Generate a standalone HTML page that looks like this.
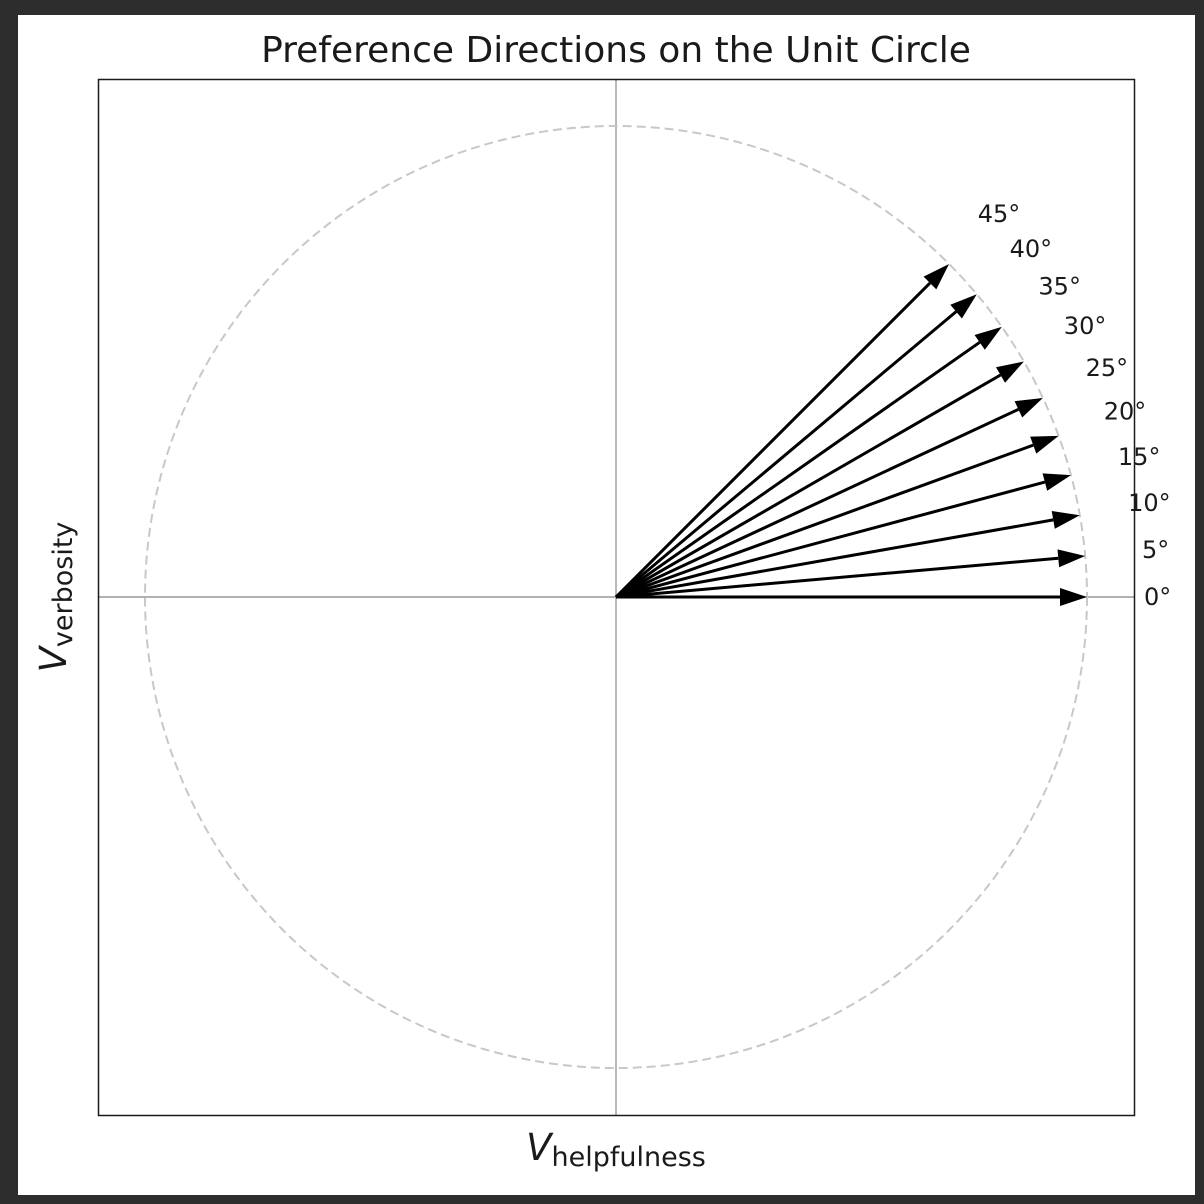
<!DOCTYPE html>
<html><head><meta charset="utf-8"><style>
html,body{margin:0;padding:0;background:#2d2d2d;}
svg{display:block;font-family:"DejaVu Sans","Liberation Sans",sans-serif;}
</style></head><body>
<svg id="chart" width="1204" height="1204" xmlns="http://www.w3.org/2000/svg">
<rect x="18" y="15" width="1177" height="1180" fill="#fff"/>
<text x="616" y="62" font-size="36" text-anchor="middle" fill="#1a1a1a">Preference Directions on the Unit Circle</text>
<g id="plot"></g>
<rect x="98.5" y="79.5" width="1036" height="1036" fill="none" stroke="#1a1a1a" stroke-width="1.5"/>
<text x="616" y="1160" text-anchor="middle" fill="#1a1a1a"><tspan font-style="italic" font-size="37">V</tspan><tspan font-size="27" dy="6">helpfulness</tspan></text>
<text transform="translate(66,597) rotate(-90)" text-anchor="middle" fill="#1a1a1a"><tspan font-style="italic" font-size="37">V</tspan><tspan font-size="27" dy="6">verbosity</tspan></text>
</svg>
<script>
const angles = [0,5,10,15,20,25,30,35,40,45];
const angleLabels = ["0°","5°","10°","15°","20°","25°","30°","35°","40°","45°"];
const cx = 616, cy = 597, unit = 471;
function sx(v){return cx + v*unit;}
function sy(v){return cy - v*unit;}
const NS = "http://www.w3.org/2000/svg";
const g = document.getElementById('plot');
function mk(tag, attrs){const e=document.createElementNS(NS,tag);for(const k in attrs)e.setAttribute(k,attrs[k]);g.appendChild(e);return e;}
let l1 = mk('line',{x1:sx(-1.1),y1:sy(0),x2:sx(1.1),y2:sy(0),stroke:'#999','stroke-width':1.4});


let l2 = mk('line',{x1:sx(0),y1:sy(-1.1),x2:sx(0),y2:sy(1.1),stroke:'#999','stroke-width':1.4});


let c = mk('circle',{cx:sx(0),cy:sy(0),r:unit,fill:'none',stroke:'#c8c8c8','stroke-width':2,'stroke-dasharray':'9,5'});


angles.forEach((a,i)=>{
  const t=a*Math.PI/180, ux=Math.cos(t), uy=Math.sin(t);
  const tx=sx(ux), ty=sy(uy);
  const hl=27, hw=9;
  const bx=tx-ux*hl, by=ty+uy*hl;
  const px=uy, py=ux;
  const ln=mk('line',{x1:sx(0),y1:sy(0),x2:bx,y2:by,stroke:'#000','stroke-width':3});
  
  
  const hd=mk('polygon',{points:`${tx},${ty} ${bx+px*hw},${by+py*hw} ${bx-px*hw},${by-py*hw}`,fill:'#000'});
  
  
  const lb=mk('text',{x:sx(1.15*ux),y:sy(1.15*uy)+8,'font-size':24,'text-anchor':'middle',fill:'#1a1a1a'});
  lb.textContent=angleLabels[i];
  
  
});
</script>
</body></html>
